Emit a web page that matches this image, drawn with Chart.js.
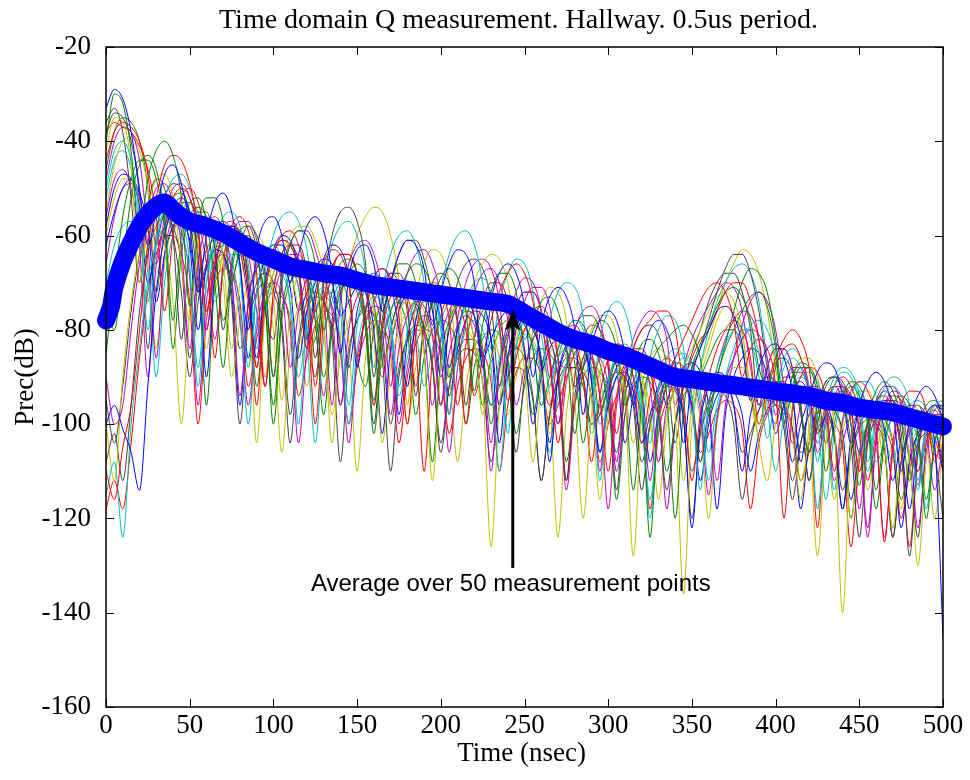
<!DOCTYPE html>
<html>
<head>
<meta charset="utf-8">
<script src="https://cdn.jsdelivr.net/npm/chart.js"></script>
<style>
  body { margin: 0; background: #fff; }
  #wrap { width: 970px; height: 780px; }
</style>
</head>
<body>
<div id="wrap"><canvas id="myChart" width="970" height="780"></canvas></div>
<script>
const chartTitle = 'Time domain Q measurement. Hallway. 0.5us period.';
const xTitle = 'Time (nsec)';
const yTitle = 'Prec(dB)';
const noteText = 'Average over 50 measurement points';

// note arrow: time, tail and head (dB)
const noteTime = 243;
const noteTail = -130.5;
const noteHead = -75.5;

// sample times of the single measurement traces (ns)
const times = [0,5,10,15,20,25,30,35,40,45,50,55,60,65,70,75,80,85,90,95,
  100,105,110,115,120,125,130,135,140,145,150,155,160,165,170,175,180,185,190,195,
  200,205,210,215,220,225,230,235,240,245,250,255,260,265,270,275,280,285,290,295,
  300,305,310,315,320,325,330,335,340,345,350,355,360,365,370,375,380,385,390,395,
  400,405,410,415,420,425,430,435,440,445,450,455,460,465,470,475,480,485,490,495,500];

// average curve
const avgTimes = [0,3,5,10,15,20,25,30,35,40,45,50,60,70,80,90,100,110,120,130,140,150,160,170,180,190,
  200,210,220,230,240,250,260,270,280,290,300,310,320,330,340,350,360,370,380,390,
  400,410,420,430,440,450,460,470,480,490,500];
const avgDb = [-78,-75,-71,-65.5,-61.5,-58,-55.5,-53.8,-53,-54.5,-56,-57,-58,-59.5,-61.5,-63.5,-65,-66.5,-67.3,-68,-68.5,-69.5,-70.5,-71,-71.5,-72,
  -72.5,-73,-73.5,-74,-74.5,-76.5,-78.5,-80.5,-82,-83,-84.5,-85.5,-87,-88.5,-90,-90.5,-91,-91.5,-92,-92.5,
  -93,-93.5,-94,-95,-95.5,-96.5,-97,-97.5,-98.5,-99.5,-100.5];

const trace01 = [-33,-29,-31,-38,-50,-62,-55,-47,-45,-49,-58,-72,-60,-53,-51,-55,-66,-80,-63,-57,
  -56,-60,-70,-64,-58,-56,-59,-68,-85,-69,-63,-62,-66,-76,-70,-64,-61,-62,-67,-79,
  -72,-66,-63,-64,-70,-88,-74,-68,-66,-68,-75,-90,-79,-73,-71,-73,-80,-98,-84,-78,
  -76,-78,-85,-96,-86,-80,-78,-80,-87,-104,-90,-84,-80,-76,-75,-77,-83,-95,-88,-84,
  -83,-86,-93,-108,-95,-89,-87,-88,-94,-104,-96,-91,-89,-91,-97,-110,-99,-94,-92,-94,-99];
const trace02 = [-40,-30,-32,-42,-60,-48,-42,-40,-43,-52,-75,-58,-52,-52,-57,-70,-62,-58,-60,-68,
  -90,-70,-62,-59,-60,-66,-80,-72,-66,-65,-68,-77,-95,-78,-70,-66,-66,-70,-80,-74,
  -69,-67,-69,-76,-93,-79,-72,-68,-68,-72,-82,-78,-74,-73,-76,-84,-102,-88,-81,-78,
  -79,-84,-96,-88,-83,-82,-85,-94,-120,-97,-88,-83,-79,-75,-72,-71,-73,-78,-88,-92,
  -87,-86,-89,-97,-106,-96,-91,-90,-93,-100,-113,-99,-93,-91,-93,-99,-112,-101,-96,-95,-97];
const trace03 = [-110,-116,-105,-96,-80,-62,-52,-45,-43,-44,-49,-58,-76,-66,-60,-59,-63,-74,-88,-72,
  -64,-61,-62,-68,-84,-74,-66,-63,-64,-70,-86,-76,-69,-67,-69,-77,-100,-81,-73,-70,
  -71,-78,-96,-83,-75,-72,-73,-79,-95,-86,-80,-78,-80,-87,-104,-91,-85,-83,-86,-94,
  -110,-94,-87,-84,-84,-88,-98,-91,-86,-82,-78,-74,-71,-70,-72,-78,-90,-84,-82,-84,
  -92,-120,-97,-90,-88,-89,-95,-110,-99,-93,-91,-93,-100,-125,-104,-96,-93,-93,-97,-108,-100];
const trace04 = [-50,-42,-40,-44,-56,-80,-62,-54,-52,-56,-66,-92,-70,-61,-58,-60,-68,-88,-72,-64,
  -62,-65,-75,-100,-78,-69,-66,-68,-76,-96,-79,-71,-68,-70,-78,-92,-80,-73,-70,-72,
  -80,-98,-82,-74,-70,-69,-72,-80,-102,-84,-78,-77,-81,-92,-86,-80,-78,-80,-88,-112,
  -92,-85,-83,-86,-96,-104,-92,-86,-84,-86,-94,-114,-96,-88,-83,-80,-79,-82,-90,-103,
  -94,-88,-86,-88,-95,-118,-99,-92,-89,-90,-96,-110,-100,-94,-92,-94,-100,-114,-102,-96,-95];
const trace05 = [-90,-100,-96,-80,-66,-56,-50,-49,-53,-62,-84,-66,-58,-56,-59,-68,-94,-74,-66,-63,
  -64,-70,-88,-76,-69,-67,-69,-76,-96,-80,-73,-71,-73,-80,-98,-84,-77,-74,-75,-81,
  -96,-85,-79,-77,-79,-86,-104,-88,-80,-75,-72,-72,-76,-85,-100,-88,-83,-82,-85,-94,
  -118,-96,-88,-85,-86,-92,-108,-96,-90,-88,-90,-97,-115,-99,-91,-86,-82,-80,-81,-86,
  -98,-92,-88,-88,-93,-106,-100,-94,-92,-94,-101,-122,-103,-96,-93,-94,-99,-113,-102,-97,-96];
const trace06 = [-42,-35,-36,-45,-70,-55,-48,-47,-52,-66,-78,-62,-57,-58,-65,-84,-70,-62,-60,-63,
  -73,-95,-76,-68,-66,-69,-78,-104,-82,-73,-70,-71,-76,-88,-82,-76,-74,-76,-85,-112,
  -88,-79,-75,-76,-82,-98,-87,-80,-78,-80,-88,-108,-92,-85,-83,-86,-95,-120,-98,-89,
  -86,-87,-94,-128,-98,-90,-88,-90,-98,-136,-100,-90,-84,-78,-75,-76,-81,-92,-100,-94,
  -92,-94,-102,-116,-101,-95,-94,-100,-140,-104,-97,-95,-97,-104,-122,-104,-98,-96,-99,-106,-104];
const trace07 = [-36,-33,-38,-52,-70,-54,-48,-50,-60,-82,-62,-55,-55,-62,-80,-66,-59,-58,-63,-76,
  -82,-68,-62,-62,-68,-86,-70,-60,-55,-54,-57,-66,-90,-74,-68,-68,-74,-94,-78,-70,
  -68,-70,-78,-96,-82,-76,-75,-78,-88,-106,-90,-82,-80,-82,-90,-112,-94,-86,-84,-87,
  -96,-106,-94,-88,-86,-89,-98,-114,-100,-92,-88,-84,-78,-72,-67,-64,-64,-68,-76,-88,
  -96,-90,-90,-96,-112,-100,-94,-92,-95,-104,-124,-104,-96,-93,-95,-102,-128,-106,-98,-96,-99];
const trace08 = [-100,-96,-101,-106,-114,-92,-72,-60,-54,-52,-55,-64,-90,-68,-60,-58,-61,-72,-86,-70,
  -63,-60,-61,-67,-82,-72,-65,-62,-63,-69,-88,-76,-69,-67,-70,-80,-92,-78,-72,-71,
  -75,-88,-80,-74,-72,-74,-82,-104,-86,-79,-77,-79,-87,-108,-90,-83,-81,-83,-91,-106,
  -96,-90,-89,-93,-104,-98,-92,-90,-92,-99,-122,-100,-92,-89,-90,-96,-110,-98,-92,-90,
  -91,-96,-108,-100,-95,-93,-95,-102,-118,-103,-97,-95,-96,-101,-112,-103,-98,-96,-98,-104,-145];
const trace09 = [-75,-80,-66,-52,-45,-43,-46,-56,-78,-60,-53,-52,-57,-70,-88,-68,-61,-60,-64,-74,
  -96,-76,-68,-66,-69,-78,-98,-80,-72,-70,-72,-80,-102,-84,-76,-72,-68,-66,-67,-72,
  -84,-90,-80,-76,-77,-84,-100,-88,-81,-78,-79,-84,-96,-90,-84,-80,-78,-79,-84,-98,
  -92,-86,-84,-86,-94,-124,-98,-90,-87,-88,-94,-108,-98,-90,-83,-76,-70,-67,-68,-72,
  -82,-96,-90,-87,-88,-94,-110,-100,-94,-91,-92,-98,-114,-102,-96,-94,-96,-102,-120,-104,-98];
const trace10 = [-38,-36,-37,-38,-41,-46,-56,-76,-60,-52,-50,-53,-62,-86,-66,-58,-56,-59,-68,-92,
  -72,-64,-62,-65,-74,-100,-78,-68,-64,-64,-68,-78,-96,-80,-73,-71,-73,-82,-110,-86,
  -77,-73,-74,-80,-94,-86,-78,-72,-68,-66,-68,-74,-88,-96,-86,-82,-83,-90,-108,-94,
  -86,-83,-84,-90,-104,-94,-88,-86,-88,-95,-112,-98,-90,-84,-80,-78,-80,-86,-100,-92,
  -86,-82,-80,-82,-88,-102,-96,-92,-92,-97,-110,-100,-95,-94,-97,-106,-126,-106,-99,-97,-100];
const trace11 = [-115,-108,-124,-100,-84,-70,-62,-58,-57,-60,-68,-88,-70,-63,-62,-65,-76,-100,-78,-70,
  -67,-68,-74,-90,-80,-73,-71,-73,-82,-100,-84,-76,-73,-74,-80,-94,-86,-78,-74,-74,
  -78,-90,-86,-80,-78,-80,-88,-110,-90,-83,-81,-83,-90,-106,-94,-87,-84,-84,-88,-100,
  -96,-90,-88,-90,-98,-116,-100,-92,-88,-86,-88,-95,-112,-98,-90,-84,-80,-80,-85,-96,
  -110,-98,-92,-90,-92,-99,-116,-102,-95,-92,-93,-98,-108,-104,-98,-96,-98,-104,-118,-104,-99];
const trace12 = [-56,-48,-46,-50,-62,-90,-66,-58,-56,-59,-69,-96,-74,-66,-64,-67,-78,-96,-80,-72,
  -70,-72,-80,-104,-84,-76,-73,-75,-84,-104,-86,-78,-75,-76,-82,-100,-88,-80,-77,-78,
  -85,-106,-88,-78,-72,-68,-67,-70,-78,-96,-88,-82,-80,-82,-90,-114,-96,-88,-85,-86,
  -92,-110,-98,-91,-88,-89,-95,-118,-100,-92,-89,-90,-96,-112,-96,-86,-79,-74,-72,-74,
  -80,-92,-104,-96,-92,-92,-97,-112,-104,-98,-96,-97,-103,-124,-106,-99,-96,-96,-101,-114,-104];
const trace13 = [-100,-112,-90,-74,-64,-59,-58,-62,-74,-100,-76,-66,-62,-63,-70,-90,-78,-70,-68,-71,
  -80,-106,-84,-75,-72,-73,-80,-98,-86,-78,-75,-76,-82,-104,-88,-80,-76,-74,-76,-82,
  -96,-88,-82,-80,-83,-92,-126,-96,-86,-82,-80,-82,-88,-102,-94,-88,-86,-88,-95,-116,
  -98,-90,-86,-86,-90,-100,-108,-98,-92,-90,-92,-99,-120,-100,-92,-88,-88,-92,-104,-112,
  -100,-94,-92,-94,-101,-128,-104,-97,-94,-95,-100,-114,-106,-100,-98,-100,-107,-130,-108,-101,-100];
const trace14 = [-108,-102,-112,-96,-76,-64,-58,-56,-58,-66,-86,-70,-63,-61,-64,-74,-100,-78,-70,-68,
  -70,-78,-98,-82,-74,-72,-74,-82,-108,-86,-78,-75,-77,-86,-110,-90,-82,-79,-80,-88,
  -106,-92,-85,-82,-82,-86,-96,-92,-86,-84,-86,-94,-112,-98,-90,-86,-86,-90,-100,-98,
  -92,-89,-90,-96,-114,-100,-93,-90,-91,-97,-110,-102,-96,-93,-94,-100,-116,-104,-97,-94,
  -94,-99,-112,-104,-98,-96,-97,-103,-118,-106,-100,-98,-99,-104,-124,-108,-101,-99,-100,-106,-120];
const trace15 = [-62,-55,-50,-48,-51,-58,-74,-64,-58,-57,-61,-72,-67,-63,-64,-72,-96,-74,-67,-64,
  -63,-65,-71,-86,-76,-70,-68,-70,-77,-74,-71,-72,-80,-102,-84,-76,-72,-70,-71,-76,
  -90,-80,-75,-74,-77,-86,-82,-78,-76,-77,-84,-100,-90,-84,-82,-84,-92,-88,-84,-82,
  -83,-88,-104,-94,-88,-86,-88,-96,-92,-88,-87,-89,-96,-118,-98,-90,-86,-84,-85,-90,
  -102,-96,-92,-91,-94,-102,-98,-95,-94,-97,-106,-100,-96,-95,-97,-104,-118,-104,-98,-96,-97];
const trace16 = [-85,-70,-56,-48,-44,-44,-48,-58,-84,-64,-56,-54,-56,-63,-78,-70,-64,-62,-65,-74,
  -100,-78,-70,-67,-68,-74,-90,-80,-72,-68,-66,-68,-74,-88,-80,-74,-72,-75,-84,-108,
  -86,-78,-75,-76,-82,-96,-86,-80,-78,-79,-85,-98,-88,-82,-80,-81,-87,-104,-92,-86,
  -84,-86,-93,-114,-96,-88,-84,-82,-80,-79,-81,-86,-98,-90,-84,-80,-76,-73,-72,-75,
  -84,-100,-92,-88,-88,-92,-104,-98,-94,-92,-94,-100,-118,-104,-98,-96,-97,-102,-116,-104,-100];
const trace17 = [-44,-38,-36,-37,-40,-47,-62,-58,-52,-50,-52,-59,-76,-64,-58,-57,-60,-70,-96,-72,
  -64,-60,-59,-62,-70,-92,-74,-67,-64,-64,-68,-78,-74,-70,-68,-70,-76,-92,-80,-74,
  -72,-73,-79,-100,-82,-74,-70,-70,-74,-84,-80,-76,-75,-78,-86,-112,-90,-82,-79,-80,
  -86,-102,-90,-84,-80,-78,-76,-76,-80,-90,-86,-82,-80,-76,-72,-70,-70,-74,-82,-98,
  -88,-84,-83,-86,-94,-122,-98,-92,-90,-92,-98,-112,-102,-96,-94,-95,-100,-110,-104,-100,-99];
const trace18 = [-70,-62,-58,-57,-60,-68,-90,-70,-60,-55,-53,-55,-61,-74,-68,-64,-64,-68,-80,-76,
  -70,-67,-67,-71,-82,-104,-82,-74,-70,-69,-71,-78,-96,-82,-76,-74,-75,-80,-92,-84,
  -78,-74,-72,-73,-77,-88,-96,-86,-80,-78,-79,-84,-96,-92,-86,-84,-85,-90,-102,-96,
  -90,-87,-87,-90,-98,-120,-98,-90,-86,-85,-87,-93,-106,-96,-90,-86,-82,-79,-78,-80,
  -86,-98,-94,-90,-89,-91,-98,-114,-100,-94,-91,-91,-94,-102,-108,-100,-96,-95,-97,-104,-102];
const trace19 = [-48,-40,-37,-38,-44,-58,-66,-56,-50,-49,-52,-60,-80,-66,-60,-58,-59,-64,-76,-92,
  -74,-67,-64,-64,-68,-78,-94,-78,-71,-68,-68,-72,-82,-90,-80,-74,-72,-74,-80,-96,
  -82,-76,-73,-73,-77,-86,-110,-88,-78,-72,-69,-70,-76,-90,-84,-80,-79,-82,-90,-110,
  -92,-86,-84,-86,-93,-112,-96,-90,-88,-90,-97,-108,-96,-88,-82,-78,-76,-77,-82,-94,
  -100,-92,-89,-89,-93,-104,-98,-94,-93,-95,-102,-124,-104,-97,-95,-96,-102,-122,-106,-100,-98];
const trace20 = [-55,-45,-40,-39,-42,-50,-68,-60,-54,-53,-56,-66,-84,-70,-64,-62,-64,-72,-104,-76,
  -68,-66,-68,-76,-92,-80,-74,-72,-74,-82,-110,-86,-78,-75,-76,-83,-100,-88,-82,-80,
  -82,-89,-108,-92,-84,-81,-81,-86,-98,-90,-85,-84,-86,-94,-124,-98,-89,-86,-86,-90,
  -100,-96,-90,-88,-90,-97,-116,-100,-92,-88,-84,-80,-76,-73,-72,-74,-80,-94,-102,-94,
  -92,-93,-98,-112,-104,-98,-96,-97,-103,-120,-106,-100,-98,-99,-104,-118,-106,-101,-99,-101,-106];
const trace21 = [-95,-104,-92,-76,-64,-57,-54,-55,-60,-72,-90,-74,-66,-63,-64,-70,-84,-78,-72,-70,
  -72,-80,-104,-84,-76,-73,-74,-80,-96,-84,-78,-76,-77,-83,-100,-88,-82,-80,-81,-87,
  -104,-92,-86,-84,-85,-91,-108,-96,-90,-88,-89,-95,-112,-98,-91,-88,-88,-92,-100,-96,
  -91,-89,-90,-95,-108,-100,-94,-92,-93,-99,-120,-102,-95,-92,-92,-96,-106,-102,-97,-95,
  -96,-101,-116,-104,-98,-96,-97,-102,-114,-106,-101,-99,-100,-105,-124,-108,-102,-100,-101,-106,-108];
const trace22 = [-58,-50,-47,-48,-54,-70,-62,-55,-53,-55,-62,-80,-66,-59,-57,-59,-66,-86,-72,-65,
  -62,-62,-66,-76,-72,-67,-65,-66,-72,-88,-76,-70,-68,-70,-77,-98,-82,-75,-72,-73,
  -78,-94,-84,-78,-76,-77,-82,-96,-86,-80,-78,-80,-86,-104,-90,-84,-82,-84,-90,-106,
  -94,-88,-86,-87,-92,-108,-98,-92,-90,-91,-96,-112,-100,-94,-92,-93,-98,-110,-102,-97,
  -95,-96,-101,-118,-104,-98,-96,-97,-102,-116,-106,-100,-98,-99,-104,-122,-108,-102,-100,-101,-110];
const trace23 = [-46,-38,-35,-36,-40,-50,-72,-58,-52,-51,-55,-66,-96,-70,-62,-60,-62,-70,-92,-76,
  -68,-65,-66,-71,-84,-82,-74,-70,-70,-74,-86,-92,-80,-74,-72,-74,-80,-98,-86,-80,
  -78,-79,-84,-100,-88,-82,-80,-81,-86,-102,-92,-86,-84,-85,-90,-108,-96,-90,-88,-89,
  -94,-116,-98,-92,-90,-91,-96,-110,-100,-94,-92,-90,-86,-82,-80,-80,-84,-94,-100,-94,
  -91,-91,-95,-106,-104,-98,-96,-97,-102,-120,-106,-100,-98,-99,-104,-116,-108,-102,-100,-101,-108];
const trace24 = [-118,-112,-118,-104,-86,-72,-64,-60,-60,-64,-74,-100,-78,-70,-67,-68,-74,-92,-82,-75,
  -72,-73,-78,-94,-86,-79,-76,-77,-83,-100,-88,-81,-78,-79,-85,-104,-90,-83,-80,-81,
  -86,-102,-92,-86,-84,-85,-91,-110,-96,-89,-86,-86,-90,-100,-96,-90,-88,-89,-94,-108,
  -100,-94,-92,-93,-99,-118,-102,-95,-92,-92,-96,-106,-102,-97,-95,-96,-101,-118,-104,-98,
  -96,-97,-101,-112,-106,-101,-99,-100,-105,-126,-108,-102,-100,-101,-106,-120,-110,-104,-102,-103,-110];
const trace25 = [-52,-44,-42,-46,-58,-74,-60,-52,-48,-47,-50,-58,-72,-62,-56,-55,-58,-66,-84,-68,
  -60,-56,-55,-57,-63,-76,-70,-62,-58,-57,-60,-68,-88,-72,-64,-60,-59,-62,-70,-86,
  -72,-64,-60,-59,-62,-70,-84,-74,-68,-65,-66,-72,-88,-78,-72,-70,-71,-77,-94,-82,
  -76,-74,-76,-84,-100,-86,-80,-77,-78,-84,-98,-88,-80,-74,-70,-67,-66,-68,-74,-86,
  -92,-86,-84,-86,-92,-108,-96,-90,-88,-89,-94,-108,-98,-92,-90,-91,-96,-112,-100,-96,-97];
const trace26 = [-66,-56,-50,-49,-52,-62,-86,-64,-56,-53,-53,-57,-66,-82,-68,-60,-57,-57,-61,-70,
  -90,-70,-62,-59,-59,-63,-72,-96,-74,-66,-62,-61,-64,-72,-92,-76,-68,-64,-63,-66,
  -74,-98,-78,-70,-66,-65,-67,-74,-90,-80,-74,-71,-71,-75,-86,-88,-80,-76,-75,-78,
  -88,-108,-90,-82,-78,-76,-77,-82,-96,-88,-82,-78,-75,-72,-70,-71,-76,-88,-96,-88,
  -84,-84,-88,-98,-106,-96,-91,-90,-92,-100,-118,-102,-95,-92,-92,-96,-106,-110,-100,-96,-96];
const trace27 = [-60,-52,-48,-48,-53,-66,-84,-66,-58,-55,-56,-62,-76,-72,-64,-60,-59,-62,-70,-90,
  -72,-64,-60,-58,-58,-61,-68,-82,-74,-66,-60,-56,-54,-55,-60,-70,-96,-74,-66,-63,
  -64,-70,-86,-78,-70,-66,-64,-65,-70,-82,-92,-80,-74,-71,-72,-78,-94,-86,-80,-77,
  -77,-81,-92,-104,-92,-86,-84,-86,-92,-112,-96,-88,-82,-76,-70,-66,-63,-64,-68,-76,
  -88,-98,-90,-86,-86,-90,-100,-116,-102,-96,-93,-93,-97,-108,-104,-98,-96,-97,-102,-120,-104];
const trace28 = [-38,-34,-35,-40,-52,-84,-60,-52,-49,-50,-56,-70,-80,-66,-60,-58,-60,-68,-88,-72,
  -64,-61,-62,-67,-80,-90,-74,-67,-64,-64,-68,-78,-100,-80,-70,-64,-61,-61,-65,-74,
  -96,-78,-70,-66,-65,-67,-74,-92,-82,-75,-72,-72,-76,-86,-100,-88,-80,-77,-77,-80,
  -88,-114,-92,-84,-80,-79,-81,-88,-104,-92,-85,-80,-74,-70,-68,-68,-72,-80,-96,-88,
  -84,-84,-88,-96,-112,-98,-92,-90,-91,-96,-110,-104,-98,-95,-95,-99,-108,-124,-104,-98,-98];

const traces = [trace01, trace02, trace03, trace04, trace05, trace06, trace07,
  trace08, trace09, trace10, trace11, trace12, trace13, trace14,
  trace15, trace16, trace17, trace18, trace19, trace20, trace21,
  trace22, trace23, trace24, trace25, trace26, trace27, trace28];
// matlab line colour order b g r c m y k
const traceColors = ['#0000ff', '#008000', '#ff0000', '#00bfbf', '#bf00bf', '#bfbf00', '#404040'];

const serif = '"Liberation Serif", "Times New Roman", serif';

const datasets = [{
  label: 'average',
  data: avgTimes.map((t, i) => ({ x: t, y: avgDb[i] })),
  borderColor: '#0000ff',
  borderWidth: 18,
  borderCapStyle: 'round',
  borderJoinStyle: 'round',
  pointRadius: 0,
  tension: 0.3,
  clip: 12,
  order: 0
}];
traces.forEach((tr, k) => {
  datasets.push({
    label: 'point ' + (k + 1),
    data: times.map((t, i) => ({ x: t, y: tr[i] })),
    borderColor: traceColors[k % traceColors.length],
    borderWidth: 1,
    pointRadius: 0,
    cubicInterpolationMode: 'monotone',
    order: 1
  });
});

// matlab style box, inward ticks, titles and the arrow note
const matlabAxes = {
  id: 'matlabAxes',
  afterDatasetsDraw(chart) {
    const ctx = chart.ctx;
    const a = chart.chartArea;
    const xs = chart.scales.x, ys = chart.scales.y;
    ctx.save();
    ctx.strokeStyle = '#000';
    ctx.lineWidth = 1;
    xs.ticks.forEach(t => {
      const px = Math.round(xs.getPixelForValue(t.value)) + 0.5;
      ctx.beginPath();
      ctx.moveTo(px, a.bottom); ctx.lineTo(px, a.bottom - 8);
      ctx.moveTo(px, a.top); ctx.lineTo(px, a.top + 8);
      ctx.stroke();
    });
    ys.ticks.forEach(t => {
      const py = Math.round(ys.getPixelForValue(t.value)) + 0.5;
      ctx.beginPath();
      ctx.moveTo(a.left, py); ctx.lineTo(a.left + 8, py);
      ctx.moveTo(a.right, py); ctx.lineTo(a.right - 8, py);
      ctx.stroke();
    });
    ctx.lineWidth = 1.5;
    ctx.strokeRect(a.left, a.top, a.right - a.left, a.bottom - a.top);

    // arrow note
    const ax = xs.getPixelForValue(noteTime);
    const yTail = ys.getPixelForValue(noteTail);
    const yHead = ys.getPixelForValue(noteHead);
    ctx.lineWidth = 3;
    ctx.beginPath();
    ctx.moveTo(ax, yTail); ctx.lineTo(ax, yHead + 16);
    ctx.stroke();
    ctx.fillStyle = '#000';
    ctx.beginPath();
    ctx.moveTo(ax, yHead);
    ctx.lineTo(ax - 8, yHead + 22);
    ctx.lineTo(ax, yHead + 17);
    ctx.lineTo(ax + 8, yHead + 22);
    ctx.closePath();
    ctx.fill();
    ctx.font = '24px "Liberation Sans", Arial, sans-serif';
    ctx.textAlign = 'center';
    ctx.textBaseline = 'alphabetic';
    ctx.fillText(noteText, ax - 2, yTail + 23);

    // titles
    ctx.font = '28px ' + serif;
    ctx.fillText(chartTitle, (a.left + a.right) / 2 - 6, 28);
    ctx.font = '27px ' + serif;
    ctx.fillText(xTitle, (a.left + a.right) / 2 - 3, 761);
    ctx.translate(33, (a.top + a.bottom) / 2);
    ctx.rotate(-Math.PI / 2);
    ctx.fillText(yTitle, 0, 0);
    ctx.restore();
  }
};

const config = {
  type: 'line',
  data: { datasets: datasets },
  options: {
    responsive: false,
    animation: false,
    events: [],
    layout: { padding: { left: 0, right: 27, top: 47, bottom: 0 } },
    plugins: { legend: { display: false }, tooltip: { enabled: false }, title: { display: false } },
    scales: {
      x: {
        type: 'linear',
        min: 0, max: 500,
        grid: { display: false },
        border: { display: false },
        ticks: { stepSize: 50, color: '#000', padding: -5, maxRotation: 0, font: { family: serif, size: 27 } },
        afterFit(s) { s.height = 73; }
      },
      y: {
        min: -160, max: -20,
        grid: { display: false },
        border: { display: false },
        ticks: { stepSize: 20, color: '#000', padding: 7, font: { family: serif, size: 27 } },
        afterFit(s) { s.width = 106; }
      }
    }
  },
  plugins: [matlabAxes]
};

const myChart = new Chart(document.getElementById('myChart'), config);
</script>
</body>
</html>
